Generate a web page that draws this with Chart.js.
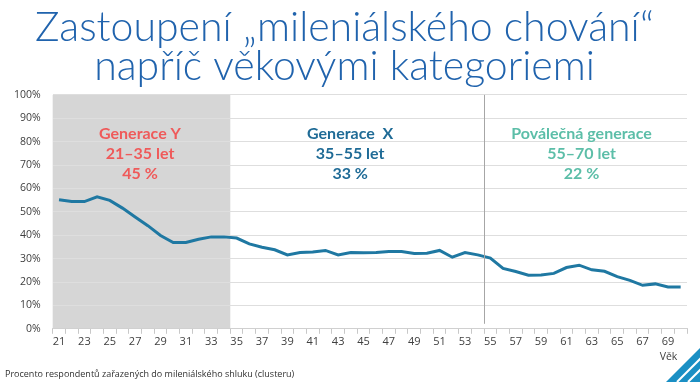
<!DOCTYPE html>
<html>
<head>
<meta charset="utf-8">
<script src="https://cdn.jsdelivr.net/npm/chart.js@4/dist/chart.umd.min.js"></script>
<style>
  html, body { margin: 0; padding: 0; background: #ffffff; }
  #wrap { position: relative; width: 700px; height: 382px; }
</style>
</head>
<body>
<div id="wrap"><canvas id="c" width="700" height="382"></canvas></div>
<script>
// ---- data ----
const titleLines = ['Zastoupení „mileniálského chování“', 'napříč věkovými kategoriemi'];
const ages = [21,22,23,24,25,26,27,28,29,30,31,32,33,34,35,36,37,38,39,40,
              41,42,43,44,45,46,47,48,49,50,51,52,53,54,55,56,57,58,59,60,
              61,62,63,64,65,66,67,68,69,70];
const shareValues = [55.2,54.4,54.4,56.4,54.9,51.6,47.8,44.1,39.9,36.9,
                     36.9,38.3,39.3,39.3,38.8,36.3,34.9,33.8,31.6,32.6,
                     32.8,33.5,31.6,32.6,32.5,32.6,33.0,33.0,32.2,32.3,
                     33.5,30.6,32.6,31.6,30.2,25.8,24.5,22.9,23.0,23.7,
                     26.2,27.2,25.2,24.6,22.3,20.7,18.6,19.2,17.9,17.9];
const groupNames  = ['Generace Y', 'Generace  X', 'Poválečná generace'];
const groupRanges = ['21–35 let', '35–55 let', '55–70 let'];
const groupShares = ['45 %', '33 %', '22 %'];
const groupStartAge = [21, 35, 55];
const groupEndAge   = [34, 54, 70];
const xAxisTitle = 'Věk';
const footNote = 'Procento respondentů zařazených do mileniálského shluku (clusteru)';

// ---- styles ----
const groupColors = ['#ef5a5a', '#1f6b96', '#5cbea8'];
const lineColor = '#1f78a2';
const labelFont = '"Lato", "Open Sans", sans-serif';

const decor = {
  id: 'decor',
  beforeDraw(chart) {
    const { ctx, chartArea: a, scales: { x } } = chart;
    const step = x.getPixelForValue(1) - x.getPixelForValue(0);
    const gx0 = x.getPixelForValue(0) - step / 2;
    const gx1 = x.getPixelForValue(ages.indexOf(groupEndAge[0])) + step / 2;
    ctx.save();
    ctx.fillStyle = '#d6d6d6';
    ctx.fillRect(gx0, a.top, gx1 - gx0, a.bottom - a.top);
    ctx.restore();
  },
  afterDatasetsDraw(chart) {
    const { ctx, chartArea: a, scales: { x } } = chart;
    const step = x.getPixelForValue(1) - x.getPixelForValue(0);
    const sx = Math.round(x.getPixelForValue(ages.indexOf(groupEndAge[1])) + step / 2) + 0.5;
    ctx.save();
    ctx.strokeStyle = '#a6a6a6';
    ctx.lineWidth = 1;
    ctx.beginPath();
    ctx.moveTo(sx, a.top);
    ctx.lineTo(sx, a.bottom - 5);
    ctx.stroke();

    ctx.font = 'bold 16px ' + labelFont;
    ctx.textAlign = 'center';
    ctx.textBaseline = 'middle';
    const shifts = [-1.5, -7, -4];
    for (let i = 0; i < groupNames.length; i++) {
      const x0 = x.getPixelForValue(ages.indexOf(groupStartAge[i])) - step / 2;
      const x1 = x.getPixelForValue(ages.indexOf(groupEndAge[i])) + step / 2;
      const cx = (x0 + x1) / 2 + shifts[i];
      ctx.fillStyle = groupColors[i];
      ctx.fillText(groupNames[i], cx, a.top + 38.5);
      ctx.fillText(groupRanges[i], cx, a.top + 58.5);
      ctx.fillText(groupShares[i], cx, a.top + 78.5);
    }
    ctx.restore();
  },
  afterDraw(chart) {
    const { ctx, scales: { x } } = chart;
    ctx.save();
    // corner decoration
    ctx.fillStyle = '#1a8fc4';
    ctx.beginPath();
    ctx.moveTo(666, 382);
    ctx.lineTo(700, 348);
    ctx.lineTo(700, 382);
    ctx.closePath();
    ctx.fill();
    ctx.strokeStyle = '#ffffff';
    ctx.lineWidth = 2;
    [[677, 382, 700, 359], [688, 382, 700, 370]].forEach(([a0, b0, a1, b1]) => {
      ctx.beginPath();
      ctx.moveTo(a0, b0);
      ctx.lineTo(a1 + 2, b1 - 2);
      ctx.stroke();
    });
    ctx.fillStyle = '#404040';
    ctx.font = '10.5px "Open Sans", sans-serif';
    ctx.textAlign = 'center';
    ctx.textBaseline = 'middle';
    ctx.fillText(xAxisTitle, x.getPixelForValue(ages.indexOf(69)) + 0.5, 357);
    ctx.font = '9px "Open Sans", sans-serif';
    ctx.textAlign = 'left';
    ctx.fillStyle = '#303030';
    ctx.fillText(footNote, 5, 374);
    ctx.restore();
  }
};

new Chart(document.getElementById('c'), {
  type: 'line',
  data: {
    labels: ages,
    datasets: [{
      data: shareValues,
      borderColor: lineColor,
      borderWidth: 3,
      pointRadius: 0,
      tension: 0,
      fill: false
    }]
  },
  options: {
    responsive: false,
    animation: false,
    devicePixelRatio: 1,
    layout: { padding: { left: 2, right: 13, top: 0, bottom: 33 } },
    plugins: {
      legend: { display: false },
      tooltip: { enabled: false },
      title: {
        display: true,
        text: titleLines,
        color: '#2063ad',
        font: { family: '"Lato", "Open Sans", sans-serif', size: 41, weight: '300', lineHeight: 0.95 },
        padding: { top: 8, bottom: 9 }
      }
    },
    scales: {
      x: {
        type: 'category',
        offset: true,
        grid: { display: true, drawOnChartArea: false, drawTicks: true, tickLength: 5, color: '#c8c8c8', offset: true },
        border: { display: true, color: '#d0d0d0' },
        ticks: {
          autoSkip: false,
          maxRotation: 0,
          padding: 1,
          color: '#404040',
          font: { family: '"Open Sans", sans-serif', size: 11 },
          callback: function (v, i) { return ages[i] % 2 === 1 ? String(ages[i]) : ''; }
        }
      },
      y: {
        min: 0,
        max: 100,
        grid: { color: '#dedede', drawTicks: false },
        border: { display: false },
        ticks: {
          stepSize: 10,
          padding: 12,
          color: '#404040',
          font: { family: '"Open Sans", sans-serif', size: 10.5 },
          callback: v => v + '%'
        }
      }
    }
  },
  plugins: [decor]
});
</script>
</body>
</html>
